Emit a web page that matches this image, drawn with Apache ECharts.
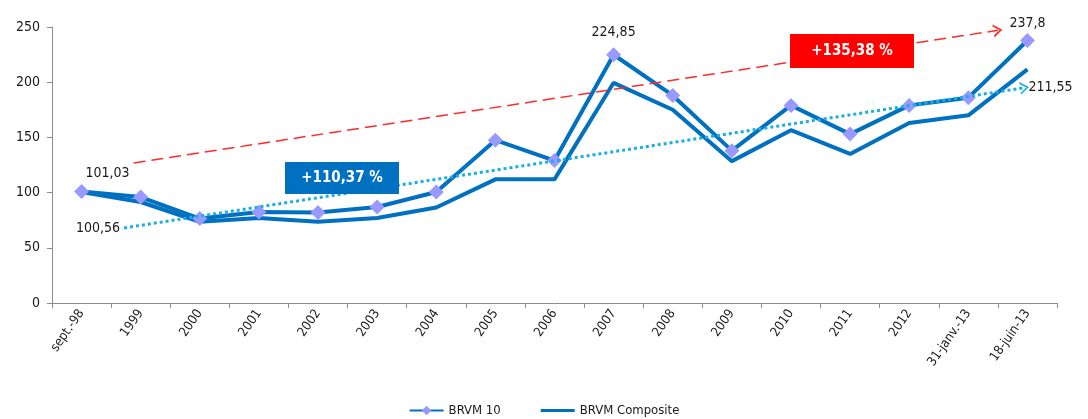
<!DOCTYPE html>
<html lang="fr">
<head>
    <meta charset="UTF-8">
    <title>BRVM</title>
    <script src="https://cdn.jsdelivr.net/npm/echarts@6/dist/echarts.min.js"></script>
    <style>
        *{ padding:0; margin:0; }
        html,body{ width:1088px; height:419px; background:#fff; overflow:hidden; }
        #main{ width:1088px; height:419px; }
    </style>
</head>
<body>
<div id="main"></div>
<script>
    var categories = ['sept.-98','1999','2000','2001','2002','2003','2004','2005','2006','2007','2008','2009','2010','2011','2012','31-janv.-13','18-juin-13'];
    var brvm10 = [101.03, 96, 76.5, 82.5, 82, 87, 100.5, 147.5, 129, 224.85, 188, 138, 179, 153, 179, 186, 237.8];
    var composite = [100.56, 91.5, 73.5, 77, 73.5, 77, 86.5, 112, 112, 199.45, 175, 128.5, 156.5, 135, 163, 170, 211.55];
    var yTicks = [0, 50, 100, 150, 200, 250];

    // trend arrows, x given as category position (0 = first category)
    var redTrend = [[0.88, 126.8], [15.5, 247]];
    var blueTrend = [[0.72, 68], [15.95, 195]];
    var redTrendLabels = ['101,03', ''];
    var blueTrendLabels = ['100,56', '211,55'];
    var redGrowth = '+135,38 %';
    var blueGrowth = '+110,37 %';

    var font = '"DejaVu Sans Condensed", "Liberation Sans Narrow", "DejaVu Sans", sans-serif';
    var chevron = 'path://M0,10 L5,0 L10,10 L8.4,10 L5,3.2 L1.6,10 Z';
    var lineIcon = 'path://M0,0 L0.1,0 L0.1,0.1 Z M0,4.5 L34,4.5 L34,7.5 L0,7.5 Z M33.9,12 L34,12 L34,11.9 Z';

    function fmt(v){ return String(v).replace('.', ','); }

    var brvm10Data = brvm10.map(function(v, i){
        var item = {value: v};
        if (i === 9) {
            item.label = {show:true, position:'top', distance:8, formatter: fmt(v)};
        }
        if (i === 16) {
            item.label = {show:true, position:'top', distance:3, formatter: fmt(v)};
        }
        return item;
    });
    var compositeData = composite.map(function(v, i){
        var item = {value: v};
        if (i === 9) {
            item.label = {show:true, position:'bottom', distance:22, offset:[14,0], formatter: fmt(v)};
        }
        return item;
    });

    function trendSeries(name, pts, labels, color, dash, width){
        return {
            name: name,
            type: 'line',
            xAxisIndex: 1,
            silent: true,
            symbol: 'circle',
            symbolSize: 0.1,
            lineStyle: {opacity: 0},
            itemStyle: {color: color},
            data: pts.map(function(p, i){
                return {
                    value: p,
                    label: {
                        show: labels[i] !== '',
                        position: i === 0 ? 'left' : 'right',
                        distance: 4,
                        offset: (i === 0 && name === 'redTrend') ? [0, 10] : [0, 0],
                        formatter: labels[i]
                    }
                };
            }),
            label: {color:'#1a1a1a', fontSize:14, fontFamily:font},
            markLine: {
                silent: true,
                animation: false,
                symbol: ['none', chevron],
                symbolSize: [13, 9],
                label: {show:false},
                lineStyle: {color: color, type: dash, width: width},
                data: [[{coord: pts[0]}, {coord: pts[1]}]]
            }
        };
    }

    function badge(x, y, w, h, text, color){
        return {
            type: 'group',
            left: x, top: y,
            z: 100,
            children: [
                {type:'rect', z:100, shape:{x:0, y:0, width:w, height:h}, style:{fill:color}},
                {type:'text', z:101, x:w/2, y:h/2, style:{
                    text: text, fill:'#fff', font:'bold 15px ' + font,
                    align:'center', verticalAlign:'middle'
                }}
            ]
        };
    }

    var myChart = echarts.init(document.getElementById('main'));
    var option = {
        animation: false,
        textStyle: {fontFamily: font},
        grid: {left: 52, right: 31, top: 27, bottom: 116},
        legend: {
            bottom: -3,
            left: 'center',
            itemWidth: 34,
            itemHeight: 12,
            itemGap: 40,
            data: [{name:'BRVM 10'}, {name:'BRVM Composite', icon: lineIcon}],
            textStyle: {color:'#1a1a1a', fontSize:13, fontFamily:font}
        },
        xAxis: [{
            type: 'category',
            data: categories,
            boundaryGap: true,
            axisLine: {onZero:false, lineStyle: {color:'#8c8c8c', width:1}},
            axisTick: {show:true, length:5, interval:0, lineStyle:{color:'#8c8c8c'}},
            axisLabel: {interval:0, rotate:55, color:'#1a1a1a', fontSize:13, margin:8, fontFamily:font}
        }, {
            type: 'value',
            min: -0.5,
            max: 16.5,
            show: false
        }],
        yAxis: {
            type: 'value',
            min: yTicks[0],
            max: yTicks[yTicks.length - 1],
            interval: 50,
            axisLine: {show:true, onZero:false, lineStyle:{color:'#8c8c8c'}},
            axisTick: {show:true, length:5, lineStyle:{color:'#8c8c8c'}},
            axisLabel: {color:'#1a1a1a', fontSize:14, margin:12, fontFamily:font},
            splitLine: {show:false}
        },
        series: [
            {
                name: 'BRVM 10',
                type: 'line',
                data: brvm10Data,
                symbol: 'diamond',
                symbolSize: 15,
                z: 4,
                lineStyle: {color:'#0070c0', width:4},
                itemStyle: {color:'#9999ff'},
                label: {color:'#1a1a1a', fontSize:14, fontFamily:font}
            },
            {
                name: 'BRVM Composite',
                type: 'line',
                data: compositeData,
                symbol: 'none',
                z: 3,
                lineStyle: {color:'#0070c0', width:4},
                itemStyle: {color:'#0070c0'},
                label: {color:'#1a1a1a', fontSize:14, fontFamily:font}
            },
            trendSeries('redTrend', redTrend, redTrendLabels, '#ff2a2a', [12, 6], 1.5),
            trendSeries('blueTrend', blueTrend, blueTrendLabels, '#19aee8', [3, 3], 3)
        ],
        graphic: [
            badge(790, 34, 124, 34, redGrowth, '#ff0000'),
            badge(285, 162, 114, 32, blueGrowth, '#0070c0')
        ]
    };
    myChart.setOption(option);
</script>
</body>
</html>
